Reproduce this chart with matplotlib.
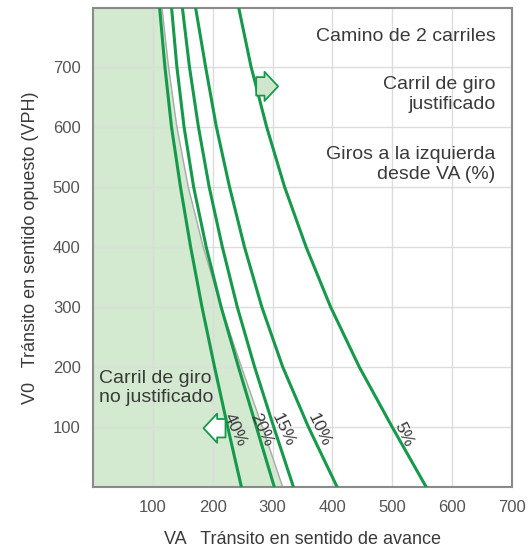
import matplotlib
matplotlib.use("Agg")
import matplotlib.pyplot as plt

plt.rcParams["font.family"] = ["Liberation Sans", "DejaVu Sans"]

# ── Data ────────────────────────────────────────────────────────────────────
V0 = [800, 700, 600, 500, 400, 300, 200, 100, 0]          # opposing volume
VA_40 = [111, 120, 131, 146, 163, 182, 203, 225, 248]
VA_20 = [131, 140, 152, 168, 189, 214, 243, 273, 303]
VA_15 = [149, 161, 176, 194, 216, 241, 270, 302, 335]
VA_10 = [171, 188, 206, 228, 253, 282, 317, 360, 408]
VA_5 = [243, 264, 290, 320, 356, 397, 445, 500, 557]
VA_edge = [115, 126, 140, 159, 184, 214, 248, 283, 317]   # shaded area limit

CURVES = [VA_40, VA_20, VA_15, VA_10, VA_5]
CURVE_LABELS = ["40%", "20%", "15%", "10%", "5%"]
LABEL_POS = [(238, 95), (282, 95), (317, 95), (377, 95), (520, 87)]

XTICKS = [100, 200, 300, 400, 500, 600, 700]
YTICKS = [100, 200, 300, 400, 500, 600, 700]

GREEN = "#16994a"
SHADE = "#d3e9d0"
TEXT = "#3a3a3a"

# ── Figure ──────────────────────────────────────────────────────────────────
fig = plt.figure(figsize=(5.32, 5.51), dpi=100)
ax = fig.add_axes([0.175, 0.116, 0.787, 0.869])
ax.set_xlim(0, 700)
ax.set_ylim(0, 797)

ax.fill_betweenx(V0, 0, VA_edge, color=SHADE, lw=0, zorder=0)
ax.plot(VA_edge, V0, color="#aaaaaa", lw=1, zorder=1)

ax.set_xticks(XTICKS)
ax.set_yticks(YTICKS)
ax.grid(True, color="#dcdcdc", lw=1, zorder=0.5)
ax.set_axisbelow(True)
ax.tick_params(length=0, labelsize=12, labelcolor="#555555", pad=9)

for s in ax.spines.values():
    s.set_color("#8a8a8a")
    s.set_linewidth(1.5)

for va in CURVES:
    ax.plot(va, V0, color=GREEN, lw=2.2, zorder=3, solid_joinstyle="round")

for lab, (x, y) in zip(CURVE_LABELS, LABEL_POS):
    ax.text(x, y, lab, rotation=-65, ha="center", va="center",
            fontsize=12.5, color=TEXT, zorder=4)

# block arrows
arrow_style = "simple,head_length=0.7,head_width=1.5,tail_width=0.95"
ax.annotate("", xy=(314, 667), xytext=(268, 667),
            arrowprops=dict(arrowstyle=arrow_style, mutation_scale=14,
                            fc="#cfe6cc", ec=GREEN, lw=1.3), zorder=5)
ax.annotate("", xy=(180, 98), xytext=(226, 98),
            arrowprops=dict(arrowstyle=arrow_style, mutation_scale=14,
                            fc="white", ec=GREEN, lw=1.3), zorder=5)

# annotations
ax.text(673, 750, "Camino de 2 carriles", ha="right", va="center",
        fontsize=14, color=TEXT)
ax.text(673, 653, "Carril de giro\njustificado", ha="right", va="center",
        fontsize=14, color=TEXT)
ax.text(673, 537, "Giros a la izquierda\ndesde VA (%)", ha="right", va="center",
        fontsize=14, color=TEXT)
ax.text(10, 165, "Carril de giro\nno justificado", ha="left", va="center",
        fontsize=14, color=TEXT, zorder=4)

ax.set_xlabel("VA   Tránsito en sentido de avance", fontsize=13, color=TEXT, labelpad=12)
ax.set_ylabel("V0   Tránsito en sentido opuesto (VPH)", fontsize=13, color=TEXT, labelpad=10)

fig.savefig("out.png", dpi=100)
